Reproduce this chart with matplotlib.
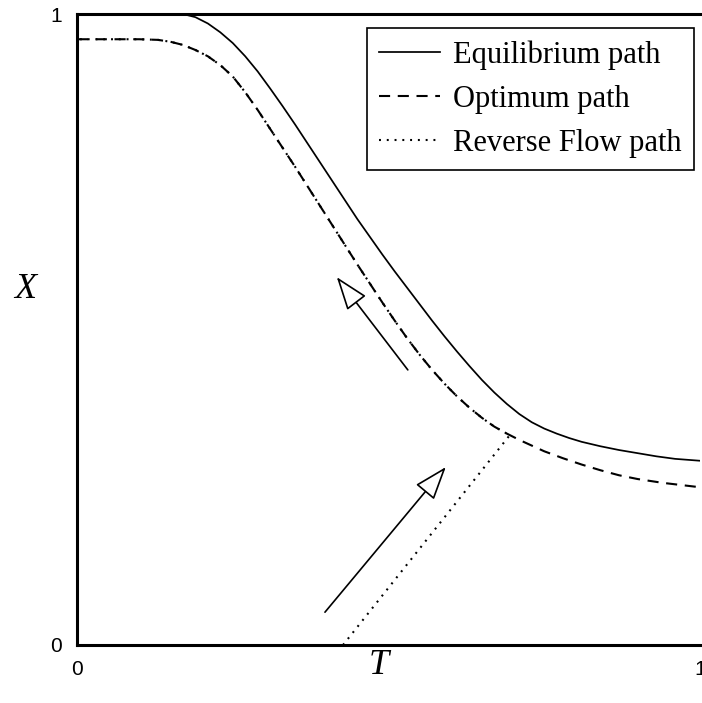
import numpy as np
import matplotlib.pyplot as plt
from matplotlib.patches import FancyArrowPatch

plt.rcParams['lines.scale_dashes'] = False

# Equilibrium conversion curve X(T)
eq_T = [0.0, 0.10, 0.170, 0.190, 0.210, 0.230, 0.250, 0.270, 0.290, 0.310,
        0.330, 0.350, 0.370, 0.390, 0.410, 0.430, 0.450, 0.470, 0.490, 0.510,
        0.530, 0.550, 0.570, 0.590, 0.610, 0.630, 0.650, 0.670, 0.690, 0.710,
        0.730, 0.750, 0.770, 0.790, 0.810, 0.840, 0.870, 0.900, 0.930, 0.960, 1.0]
eq_X = [1.0, 1.0, 1.000, 0.995, 0.985, 0.971, 0.954, 0.933, 0.909, 0.882,
        0.854, 0.825, 0.795, 0.765, 0.735, 0.705, 0.675, 0.647, 0.619, 0.592,
        0.566, 0.540, 0.514, 0.489, 0.465, 0.442, 0.420, 0.400, 0.382, 0.366,
        0.353, 0.343, 0.335, 0.328, 0.322, 0.315, 0.309, 0.304, 0.299, 0.295, 0.292]

# Optimum temperature path
opt_T = [0.0, 0.100, 0.130, 0.150, 0.170, 0.190, 0.210, 0.230, 0.250, 0.270,
         0.290, 0.310, 0.330, 0.350, 0.370, 0.390, 0.410, 0.430, 0.450, 0.470,
         0.490, 0.510, 0.530, 0.550, 0.570, 0.590, 0.610, 0.630, 0.650, 0.670,
         0.690, 0.710, 0.730, 0.750, 0.780, 0.810, 0.840, 0.870, 0.900, 0.940, 1.0]
opt_X = [0.960, 0.960, 0.959, 0.956, 0.951, 0.943, 0.933, 0.919, 0.901, 0.876,
         0.848, 0.818, 0.788, 0.758, 0.727, 0.696, 0.665, 0.634, 0.603, 0.573,
         0.543, 0.514, 0.486, 0.460, 0.436, 0.414, 0.394, 0.376, 0.360, 0.346,
         0.335, 0.325, 0.316, 0.307, 0.296, 0.286, 0.277, 0.269, 0.263, 0.257, 0.250]

# Reverse flow path: straight rise from the inlet, then along the optimum path
rf_start = (0.427, 0.0)
rf_join = (0.695, 0.333)

# Direction arrows (tail -> tip)
arrows = [((0.531, 0.436), (0.417, 0.583)),
          ((0.398, 0.052), (0.592, 0.282))]

fig = plt.figure(figsize=(7.02, 7.03), dpi=100)
ax = fig.add_axes([77 / 702, 58 / 703, 623 / 702, 631 / 703])

ax.plot(eq_T, eq_X, color='black', lw=1.25, linestyle='-', label='Equilibrium path')
ax.plot(opt_T, opt_X, color='black', lw=1.5, linestyle=(0, (8, 5.5)), label='Optimum path')

opt_T_arr = np.array(opt_T)
opt_X_arr = np.array(opt_X)
keep = opt_T_arr < rf_join[0]
rf_T = [rf_start[0], rf_join[0]] + list(opt_T_arr[keep][::-1])
rf_X = [rf_start[1], rf_join[1]] + list(opt_X_arr[keep][::-1])
ax.plot(rf_T, rf_X, color='black', lw=1.5, linestyle=(0, (1.4, 4.2)), label='Reverse Flow path')

for tail, tip in arrows:
    arr = FancyArrowPatch(tail, tip, arrowstyle='-|>,head_length=21,head_width=7.5',
                          mutation_scale=1, lw=1.2, ec='black', fc='white',
                          shrinkA=0, shrinkB=0)
    ax.add_patch(arr)

ax.set_xlim(0, 1)
ax.set_ylim(0, 1)
ax.set_xticks([0, 1])
ax.set_yticks([0, 1])
ax.tick_params(length=0, labelsize=15, pad=11)
for lbl in ax.get_xticklabels() + ax.get_yticklabels():
    lbl.set_family('Liberation Sans')

for side in ['left', 'bottom', 'top']:
    ax.spines[side].set_linewidth(2.2)
ax.spines['right'].set_visible(False)

ax.set_xlabel('T', fontsize=26, family='Liberation Serif', style='italic', va='center')
ax.xaxis.set_label_coords(0.485, -0.033)
ax.set_ylabel('X', fontsize=26, family='Liberation Serif', style='italic',
              rotation=0, va='center', ha='center')
ax.yaxis.set_label_coords(-0.083, 0.563)

leg = ax.legend(loc='upper right', bbox_to_anchor=(0.990, 0.978), borderaxespad=0,
                prop={'family': 'Liberation Serif', 'size': 22},
                frameon=True, fancybox=False, edgecolor='black', framealpha=1,
                handlelength=2.0, handletextpad=0.42, labelspacing=0.5,
                borderpad=0.4)
leg.get_frame().set_linewidth(1.2)

fig.savefig('out.png', dpi=100)
